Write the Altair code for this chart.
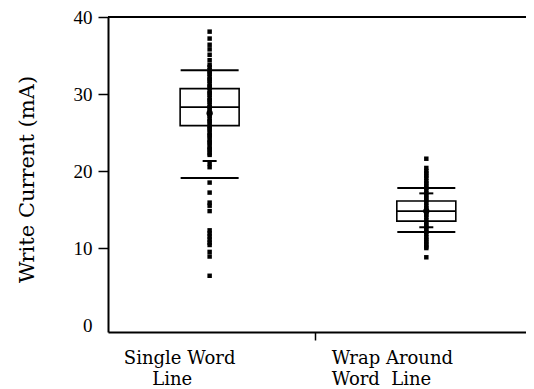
import altair as alt
import pandas as pd

# ---- data ----
POSITIONS = [0.0, 1.0]
Q1 = [25.9, 13.5]
MEDIAN = [28.3, 14.8]
Q3 = [30.7, 16.1]
WHISK_LO = [19.1, 12.1]
WHISK_HI = [33.1, 17.8]
MEAN = [27.5, 14.8]

MARKERS_1 = [21.3]
MARKERS_2 = [17.1, 12.7]

POINTS_1 = [38.1, 37.2, 36.4, 35.8, 35.1, 34.4, 33.8,
            33.5, 33.1, 32.8, 32.6, 32.2, 31.9, 31.7, 31.3, 31.0, 30.8,
            30.4, 30.1, 29.9, 29.5, 29.2, 29.0, 28.6, 28.3, 28.1, 27.7,
            27.4, 27.2, 26.8, 26.5, 26.3, 25.9, 25.6, 25.4, 25.0, 24.7,
            24.5, 24.1, 23.8, 23.6, 23.2, 22.9, 22.7, 22.3, 22.1,
            21.0, 20.5, 18.5, 17.2, 15.9, 15.5, 14.8,
            12.3, 11.9, 11.5, 11.1, 10.7, 10.4, 9.5, 8.9, 6.4]
POINTS_2 = [21.6, 20.4, 20.0, 19.7, 19.4, 19.1, 18.7, 18.4, 18.1, 17.8,
            17.5, 17.1, 16.8, 16.5, 16.2, 15.9, 15.5, 15.2, 14.9, 14.6,
            14.3, 14.0, 13.6, 13.3, 13.0, 12.7, 12.4, 12.1, 11.8, 11.4,
            11.1, 10.8, 10.5, 10.2, 10.0, 8.8]

LABEL_TEXT = ["Single Word", "Line", "Wrap Around", "Word\u00a0 Line"]
LABEL_X = [-0.396, -0.265, 0.563, 0.563]
LABEL_Y = [-4.99, -7.73, -4.99, -7.73]

Y_TICKS = [0, 10, 20, 30, 40]
X_TICK = [0.486]

# ---- tables ----
stats = pd.DataFrame({"pos": POSITIONS, "q1": Q1, "med": MEDIAN, "q3": Q3,
                      "lo": WHISK_LO, "hi": WHISK_HI, "mean": MEAN})
markers = pd.DataFrame({
    "pos": [POSITIONS[0]] * len(MARKERS_1) + [POSITIONS[1]] * len(MARKERS_2),
    "val": MARKERS_1 + MARKERS_2})
points = pd.DataFrame({
    "pos": [POSITIONS[0]] * len(POINTS_1) + [POSITIONS[1]] * len(POINTS_2),
    "val": POINTS_1 + POINTS_2})
labels = pd.DataFrame({"text": LABEL_TEXT, "x": LABEL_X, "y": LABEL_Y})
top = pd.DataFrame({"v": [40]})

xs = alt.Scale(domain=[-0.446, 1.437], nice=False, zero=False)
ys = alt.Scale(domain=[-0.9, 40], nice=False, zero=False)

x_axis = alt.Axis(values=X_TICK, labels=False, title=None, grid=False,
                  tickSize=8, tickWidth=1.5, domainWidth=2,
                  domainColor="black", tickColor="black")
y_axis = alt.Axis(values=Y_TICKS, grid=False, tickSize=10, tickWidth=1.5,
                  domainWidth=2, domainColor="black", tickColor="black",
                  tickOpacity={"condition": {"test": "datum.value === 0", "value": 0}, "value": 1},
                  labelFont="Liberation Serif", labelFontSize=19, labelColor="black",
                  labelPadding=6,
                  title="Write Current (mA)", titleFont="DejaVu Serif",
                  titleFontSize=21, titleFontWeight="normal", titleColor="black",
                  titleX=-75, titleY=162, titleAngle=270,
                  titleAlign="center", titleBaseline="alphabetic")

box = alt.Chart(stats).mark_bar(size=59, fill="white", stroke="black",
                                strokeWidth=1.6).encode(
    x=alt.X("pos:Q", scale=xs, axis=x_axis),
    y=alt.Y("q1:Q", scale=ys, axis=y_axis),
    y2="q3:Q")

pts = alt.Chart(points).mark_square(size=20, color="black", opacity=1).encode(
    x=alt.X("pos:Q", scale=xs), y=alt.Y("val:Q", scale=ys))

med = alt.Chart(stats).mark_tick(orient="horizontal", size=59, thickness=1.6,
                                 color="black", opacity=1).encode(
    x=alt.X("pos:Q", scale=xs), y=alt.Y("med:Q", scale=ys))

caps = alt.Chart(stats).transform_fold(["lo", "hi"], as_=["k", "val"]).mark_tick(
    orient="horizontal", size=58, thickness=2, color="black", opacity=1).encode(
    x=alt.X("pos:Q", scale=xs), y=alt.Y("val:Q", scale=ys))

mk = alt.Chart(markers).mark_tick(orient="horizontal", size=14, thickness=2,
                                  color="black", opacity=1).encode(
    x=alt.X("pos:Q", scale=xs), y=alt.Y("val:Q", scale=ys))

mean = alt.Chart(stats).mark_circle(size=40, color="black", opacity=1).encode(
    x=alt.X("pos:Q", scale=xs), y=alt.Y("mean:Q", scale=ys))

top_rule = alt.Chart(top).mark_rule(strokeWidth=2, color="black").encode(
    y=alt.Y("v:Q", scale=ys))

txt = alt.Chart(labels).mark_text(align="left", baseline="alphabetic",
                                  font="DejaVu Serif", fontSize=18,
                                  color="black").encode(
    x=alt.X("x:Q", scale=xs), y=alt.Y("y:Q", scale=ys), text="text:N")

chart = alt.layer(box, pts, med, caps, mk, mean, top_rule, txt).properties(
    width=418, height=315,
    padding={"left": 100, "top": 9, "right": 0, "bottom": 57},
    autosize=alt.AutoSizeParams(type="none"),
    background="white",
).configure_view(stroke=None)

chart.save("out.html", embed_options={"renderer": "svg", "actions": False})
